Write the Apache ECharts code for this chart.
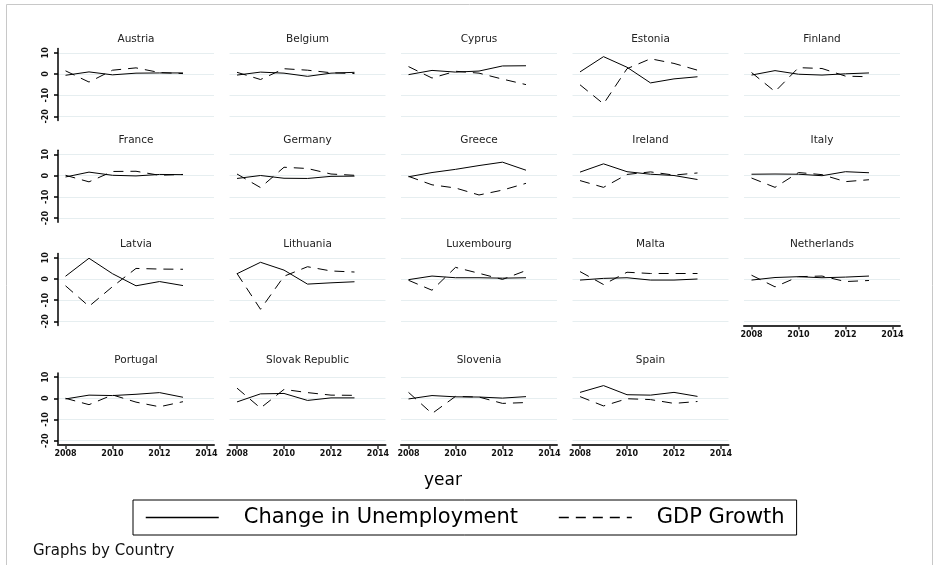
<!DOCTYPE html>
<html>
<head>
<meta charset="utf-8">
<script src="https://cdn.jsdelivr.net/npm/echarts@6/dist/echarts.min.js"></script>
<style>
html,body{margin:0;padding:0;background:#fff}
#chart{width:936px;height:565px}
</style>
</head>
<body>
<div id="chart"></div>
<script>
// data, years 2008..2013
var years = [2008, 2009, 2010, 2011, 2012, 2013];
var countries = ['Austria', 'Belgium', 'Cyprus', 'Estonia', 'Finland',
    'France', 'Germany', 'Greece', 'Ireland', 'Italy',
    'Latvia', 'Lithuania', 'Luxembourg', 'Malta', 'Netherlands',
    'Portugal', 'Slovak Republic', 'Slovenia', 'Spain'];
var unempChange = [
    [-0.6, 1.0, -0.4, 0.4, 0.5, 0.5],
    [-0.5, 0.9, 0.4, -1.1, 0.4, 0.8],
    [-0.3, 1.7, 0.9, 1.4, 3.8, 3.9],
    [1.0, 8.2, 3.2, -4.2, -2.3, -1.3],
    [-0.5, 1.6, -0.1, -0.5, 0.1, 0.5],
    [-0.6, 1.7, 0.2, -0.1, 0.6, 0.5],
    [-1.3, 0.1, -1.2, -1.3, -0.3, -0.2],
    [-0.5, 1.5, 3.0, 4.8, 6.4, 2.6],
    [1.7, 5.6, 1.9, 0.7, 0.1, -1.8],
    [0.7, 0.8, 0.7, 0.0, 1.9, 1.4],
    [1.3, 9.8, 2.5, -3.2, -1.2, -3.1],
    [2.5, 7.9, 4.2, -2.4, -1.8, -1.3],
    [-0.3, 1.4, 0.6, 0.6, 0.4, 0.6],
    [-0.5, 0.3, 0.6, -0.5, -0.5, 0.0],
    [-0.5, 0.7, 1.1, 0.6, 0.9, 1.4],
    [-0.3, 1.5, 1.3, 1.9, 2.7, 0.5],
    [-1.7, 2.1, 2.3, -1.0, 0.2, 0.2],
    [-0.3, 1.3, 0.7, 0.6, 0.1, 0.8],
    [2.8, 6.0, 1.7, 1.5, 2.8, 0.9]
];
var gdpGrowth = [
    [1.5, -3.8, 1.8, 2.9, 0.7, 0.2],
    [0.8, -2.6, 2.5, 1.8, 0.6, 0.2],
    [3.5, -1.9, 1.3, 0.4, -2.4, -5.0],
    [-5.1, -14.1, 2.5, 7.2, 5.0, 1.8],
    [0.7, -8.3, 3.0, 2.6, -1.0, -1.3],
    [0.2, -2.9, 2.0, 2.1, 0.2, 0.6],
    [0.8, -5.6, 4.0, 3.4, 0.8, 0.2],
    [-0.3, -4.3, -5.8, -9.1, -6.8, -3.6],
    [-2.3, -5.5, 0.6, 1.8, 0.3, 1.3],
    [-1.1, -5.5, 1.5, 0.5, -2.8, -1.9],
    [-3.2, -12.9, -3.6, 5.0, 4.7, 4.6],
    [2.6, -14.3, 1.3, 5.8, 3.8, 3.3],
    [-0.6, -5.3, 5.5, 2.7, -0.2, 4.0],
    [3.5, -2.6, 3.2, 2.6, 2.6, 2.6],
    [1.8, -3.7, 1.1, 1.4, -1.2, -0.7],
    [0.0, -3.0, 1.6, -1.8, -4.0, -1.6],
    [4.8, -4.6, 4.2, 2.7, 1.5, 1.4],
    [2.8, -7.2, 0.9, 0.6, -2.4, -2.0],
    [0.8, -3.6, -0.2, -0.6, -2.4, -1.5]
];
var xTicks = [2008, 2010, 2012, 2014];
var yTicks = [-20, -10, 0, 10];

// panel layout (px)
var colLeft = [58, 229.5, 401, 572.5, 744];
var rowTop = [48.6, 150.3, 253.6, 372.9];
var titleY = [39, 140.7, 244.5, 360];
var plotW = 156, plotH = 72;
var FONT = 'DejaVu Sans';

var chart = echarts.init(document.getElementById('chart'));

var grids = [], xAxes = [], yAxes = [], series = [], graphics = [];
countries.forEach(function (name, i) {
    var row = Math.floor(i / 5), col = i % 5;
    var bottom = row === 3 || name === 'Netherlands';
    var left = col === 0;
    grids.push({left: colLeft[col], top: rowTop[row], width: plotW, height: plotH});
    xAxes.push({
        type: 'value', gridIndex: i, min: 2007.68, max: 2014.32,
        splitLine: {show: false},
        axisLine: {show: bottom, onZero: false, lineStyle: {color: '#333', width: 2}},
        axisTick: {show: bottom, length: 4, customValues: xTicks, lineStyle: {color: '#333', width: 1.5}},
        axisLabel: {show: bottom, customValues: xTicks, margin: 5, color: '#111',
            fontFamily: FONT, fontSize: 8, fontWeight: 'bold',
            formatter: function (v) { return String(v); }}
    });
    yAxes.push({
        type: 'value', gridIndex: i, min: -22, max: 12,
        splitLine: {show: true, lineStyle: {color: '#e6eef0', width: 1}},
        axisLine: {show: left, lineStyle: {color: '#000', width: 1.5}},
        axisTick: {show: left, length: 4, customValues: yTicks, lineStyle: {color: '#000', width: 1.5}},
        axisLabel: {show: left, customValues: yTicks, rotate: 90, margin: 8, color: '#111',
            fontFamily: FONT, fontSize: 8, fontWeight: 'bold'}
    });
    series.push({
        name: 'Change in Unemployment', type: 'line', xAxisIndex: i, yAxisIndex: i,
        symbol: 'none', silent: true,
        lineStyle: {color: '#000', width: 1},
        itemStyle: {color: '#000'},
        data: years.map(function (y, k) { return [y, unempChange[i][k]]; })
    });
    series.push({
        name: 'GDP Growth', type: 'line', xAxisIndex: i, yAxisIndex: i,
        symbol: 'none', silent: true,
        lineStyle: {color: '#000', width: 1, type: [10, 7]},
        itemStyle: {color: '#000'},
        data: years.map(function (y, k) { return [y, gdpGrowth[i][k]]; })
    });
    graphics.push({
        type: 'text', x: colLeft[col] + plotW / 2, y: titleY[row], silent: true,
        style: {text: name, fill: '#222', font: '10.5px "' + FONT + '"',
            textAlign: 'center', textVerticalAlign: 'middle'}
    });
});

// outer frame
graphics.push({
    type: 'rect', silent: true, z: -1,
    shape: {x: 6.5, y: 4.5, width: 926, height: 580},
    style: {fill: 'none', stroke: '#c8c8c8', lineWidth: 1}
});
graphics.push({
    type: 'text', x: 443, y: 481, silent: true,
    style: {text: 'year', fill: '#000', font: '17px "' + FONT + '"',
        textAlign: 'center', textVerticalAlign: 'middle'}
});
graphics.push({
    type: 'text', x: 33, y: 551, silent: true,
    style: {text: 'Graphs by Country', fill: '#111', font: '15px "' + FONT + '"',
        textAlign: 'left', textVerticalAlign: 'middle'}
});

option = {
    animation: false,
    backgroundColor: '#fff',
    grid: grids,
    xAxis: xAxes,
    yAxis: yAxes,
    legend: {
        data: ['Change in Unemployment', 'GDP Growth'],
        left: 133, top: 500,
        itemWidth: 73, itemHeight: 14, itemGap: 40,
        padding: [7, 12, 7, 12],
        borderColor: '#000', borderWidth: 1,
        selectedMode: false,
        itemStyle: {opacity: 0},
        lineStyle: {width: 1.5},
        textStyle: {fontFamily: FONT, fontSize: 21, color: '#000', padding: [0, 0, 0, 20]}
    },
    graphic: graphics,
    series: series
};
chart.setOption(option);
</script>
</body>
</html>
